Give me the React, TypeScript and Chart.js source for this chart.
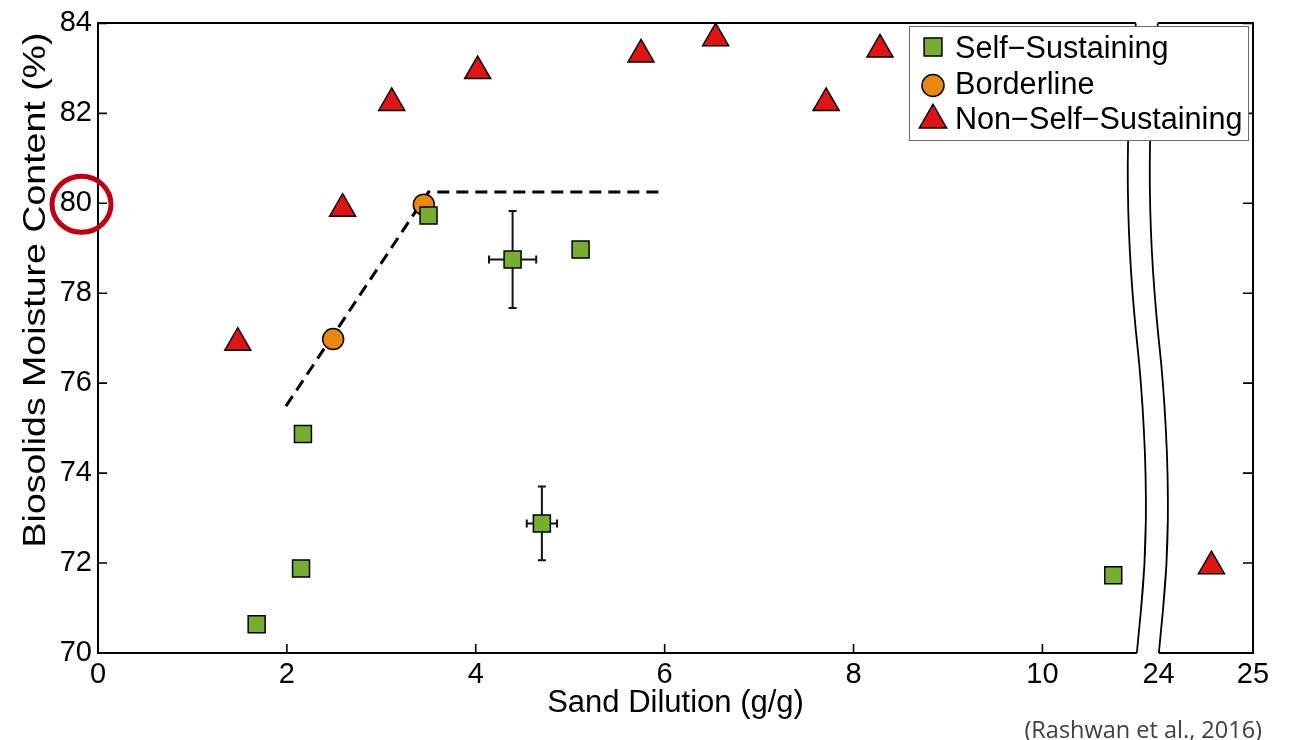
import React, { useEffect, useRef } from 'react';
import { Chart, registerables } from 'chart.js';

Chart.register(...registerables);

// ---- data (x in real g/g units; values >= 24 sit right of the axis break) ----
const selfX = [1.68, 2.15, 2.17, 3.5, 4.39, 4.7, 5.11, 10.75];
const selfY = [70.64, 71.88, 74.87, 79.73, 78.75, 72.88, 78.97, 71.73];
const selfXErr = [0, 0, 0, 0, 0.25, 0.16, 0, 0];
const selfYErr = [0, 0, 0, 0, 1.08, 0.82, 0, 0];

const borderX = [2.49, 3.45];
const borderY = [76.98, 79.97];

const nonX = [1.48, 2.59, 3.11, 4.02, 5.75, 6.54, 7.71, 8.28, 24.56];
const nonY = [76.9, 79.88, 82.23, 82.94, 83.31, 83.67, 82.23, 83.42, 71.93];

const lineX = [1.99, 3.5, 5.95];
const lineY = [75.49, 80.25, 80.25];

const xTickValues = [0, 2, 4, 6, 8, 10, 24, 25];
const xTickLabels = ['0', '2', '4', '6', '8', '10', '24', '25'];
const yMin = 70;
const yMax = 84;
const yStep = 2;

const seriesLabels = ['Self\u2212Sustaining', 'Borderline', 'Non\u2212Self\u2212Sustaining'];
const xTitle = 'Sand Dilution (g/g)';
const yTitle = 'Biosolids Moisture Content (%)';
const highlightedY = 80;

// axis break: real 24 is drawn at axis position 11.23
const BREAK_OFFSET = 12.77;
const BREAK_POS = 11.0;
const X_MAX = 25 - BREAK_OFFSET;
const toAxisX = (v: number) => (v >= 20 ? v - BREAK_OFFSET : v);

const GREEN = '#78AE30';
const ORANGE = '#E8890C';
const RED = '#E01414';
const FONT = "'Liberation Sans', Arial, Helvetica, sans-serif";

function drawMarker(ctx: CanvasRenderingContext2D, kind: string, x: number, y: number, fill: string, k = 1) {
  ctx.save();
  ctx.fillStyle = fill;
  ctx.strokeStyle = '#000';
  ctx.lineWidth = 1.5;
  ctx.beginPath();
  if (kind === 'rect') {
    const s = 8.5 * k;
    ctx.rect(x - s, y - s, 2 * s, 2 * s);
  } else if (kind === 'circle') {
    ctx.arc(x, y, 10.5 * k, 0, Math.PI * 2);
  } else {
    const r = 15 * k;
    for (let i = 0; i < 3; i++) {
      const a = (i * 2 * Math.PI) / 3;
      const px = x + Math.sin(a) * r;
      const py = y - Math.cos(a) * r;
      if (i === 0) ctx.moveTo(px, py);
      else ctx.lineTo(px, py);
    }
    ctx.closePath();
  }
  ctx.fill();
  ctx.stroke();
  ctx.restore();
}

const frameTicks = {
  id: 'frameTicks',
  beforeDatasetsDraw(chart: any) {
    const { ctx, chartArea, scales } = chart;
    const { left, right, bottom } = chartArea;
    ctx.save();
    ctx.strokeStyle = '#000';
    ctx.lineWidth = 1.6;
    scales.x.ticks.forEach((t: any) => {
      const px = scales.x.getPixelForValue(t.value);
      ctx.beginPath();
      ctx.moveTo(px, bottom);
      ctx.lineTo(px, bottom - 9);
      ctx.stroke();
    });
    scales.y.ticks.forEach((t: any) => {
      const py = scales.y.getPixelForValue(t.value);
      ctx.beginPath();
      ctx.moveTo(left, py);
      ctx.lineTo(left + 9, py);
      ctx.moveTo(right, py);
      ctx.lineTo(right - 10, py);
      ctx.stroke();
    });
    ctx.restore();
  },
};

const errorBars = {
  id: 'errorBars',
  beforeDatasetsDraw(chart: any) {
    const { ctx, scales } = chart;
    ctx.save();
    ctx.strokeStyle = '#111';
    ctx.lineWidth = 2;
    selfX.forEach((xv, i) => {
      const cx = scales.x.getPixelForValue(toAxisX(xv));
      const cy = scales.y.getPixelForValue(selfY[i]);
      if (selfYErr[i] > 0) {
        const y1 = scales.y.getPixelForValue(selfY[i] + selfYErr[i]);
        const y2 = scales.y.getPixelForValue(selfY[i] - selfYErr[i]);
        ctx.beginPath();
        ctx.moveTo(cx, y1);
        ctx.lineTo(cx, y2);
        ctx.moveTo(cx - 4, y1);
        ctx.lineTo(cx + 4, y1);
        ctx.moveTo(cx - 4, y2);
        ctx.lineTo(cx + 4, y2);
        ctx.stroke();
      }
      if (selfXErr[i] > 0) {
        const x1 = scales.x.getPixelForValue(toAxisX(xv - selfXErr[i]));
        const x2 = scales.x.getPixelForValue(toAxisX(xv + selfXErr[i]));
        ctx.beginPath();
        ctx.moveTo(x1, cy);
        ctx.lineTo(x2, cy);
        ctx.moveTo(x1, cy - 4);
        ctx.lineTo(x1, cy + 4);
        ctx.moveTo(x2, cy - 4);
        ctx.lineTo(x2, cy + 4);
        ctx.stroke();
      }
    });
    ctx.restore();
  },
};

// break curve shape: [pixel offset, fraction of plot height]
const breakShape: [number, number][] = [
  [-1, 0], [-5, 0.07], [-9.5, 0.19], [-8.5, 0.33], [-3, 0.46], [4.5, 0.57], [9.5, 0.72], [8.5, 0.86], [0, 1],
];
const BREAK_GAP = 22;

function curvePath(ctx: CanvasRenderingContext2D, pts: [number, number][], move: boolean) {
  if (move) ctx.moveTo(pts[0][0], pts[0][1]);
  else ctx.lineTo(pts[0][0], pts[0][1]);
  for (let i = 1; i < pts.length - 1; i++) {
    const mx = (pts[i][0] + pts[i + 1][0]) / 2;
    const my = (pts[i][1] + pts[i + 1][1]) / 2;
    ctx.quadraticCurveTo(pts[i][0], pts[i][1], mx, my);
  }
  const last = pts[pts.length - 1];
  ctx.lineTo(last[0], last[1]);
}

const axisBreak = {
  id: 'axisBreak',
  afterDatasetsDraw(chart: any) {
    const { ctx, chartArea, scales } = chart;
    const { top, bottom } = chartArea;
    const x0 = scales.x.getPixelForValue(BREAK_POS);
    const h = bottom - top;
    const leftPts: [number, number][] = breakShape.map(([dx, f]) => [x0 + dx, top + f * h]);
    const rightPts: [number, number][] = breakShape.map(([dx, f]) => [x0 + dx + BREAK_GAP, top + f * h]);
    ctx.save();
    const lp = leftPts.map((p) => [p[0], p[1]] as [number, number]);
    const rp = rightPts.map((p) => [p[0], p[1]] as [number, number]);
    lp[0][1] -= 2; rp[0][1] -= 2;
    lp[lp.length - 1][1] += 2; rp[rp.length - 1][1] += 2;
    ctx.beginPath();
    curvePath(ctx, lp, true);
    curvePath(ctx, rp.slice().reverse(), false);
    ctx.closePath();
    ctx.fillStyle = '#fff';
    ctx.fill();
    ctx.strokeStyle = '#000';
    ctx.lineWidth = 1.8;
    ctx.beginPath();
    curvePath(ctx, leftPts, true);
    ctx.stroke();
    ctx.beginPath();
    curvePath(ctx, rightPts, true);
    ctx.stroke();
    ctx.restore();
  },
};

const boxLegend = {
  id: 'boxLegend',
  afterDraw(chart: any) {
    const { ctx } = chart;
    const bx = 909, by = 26, bw = 339, bh = 114;
    ctx.save();
    ctx.fillStyle = '#fff';
    ctx.fillRect(bx, by, bw, bh);
    ctx.strokeStyle = '#6b6b6b';
    ctx.lineWidth = 1;
    ctx.strokeRect(bx + 0.5, by + 0.5, bw, bh);
    const kinds = ['rect', 'circle', 'triangle'];
    const rows = [47.5, 83, 118.5];
    const markerY = [47, 85.5, 120];
    chart.data.datasets.slice(0, 3).forEach((ds: any, i: number) => {
      drawMarker(ctx, kinds[i], 933, markerY[i], ds.backgroundColor, 1.05);
      ctx.fillStyle = '#000';
      ctx.font = `30.6px ${FONT}`;
      ctx.textAlign = 'left';
      ctx.textBaseline = 'alphabetic';
      ctx.fillText(ds.label, 955, rows[i] + 10.9);
    });
    ctx.restore();
  },
};

const axisTitles = {
  id: 'axisTitles',
  afterDraw(chart: any) {
    const { ctx, chartArea } = chart;
    ctx.save();
    ctx.fillStyle = '#000';
    ctx.font = `31px ${FONT}`;
    ctx.textAlign = 'center';
    ctx.textBaseline = 'middle';
    ctx.fillText(xTitle, (chartArea.left + chartArea.right) / 2, 703);
    ctx.translate(36, 290);
    ctx.rotate(-Math.PI / 2);
    ctx.scale(1.21, 1);
    ctx.fillText(yTitle, 0, 0);
    ctx.restore();
  },
};

const highlight = {
  id: 'highlight',
  afterDraw(chart: any) {
    const { ctx, scales } = chart;
    const cy = scales.y.getPixelForValue(highlightedY);
    ctx.save();
    ctx.strokeStyle = '#C00010';
    ctx.lineWidth = 5;
    ctx.beginPath();
    ctx.ellipse(81.5, cy + 1, 29.5, 28, 0, 0, Math.PI * 2);
    ctx.stroke();
    ctx.restore();
  },
};

export default function App() {
  const ref = useRef<HTMLCanvasElement>(null);

  useEffect(() => {
    const canvas = ref.current;
    if (!canvas) return;
    const yTicks: number[] = [];
    for (let v = yMin; v <= yMax; v += yStep) yTicks.push(v);

    const pointBase = { borderColor: '#000', borderWidth: 1.5, clip: false as any };

    const chart = new Chart(canvas, {
      type: 'scatter',
      data: {
        datasets: [
          {
            ...pointBase,
            label: seriesLabels[0],
            data: selfX.map((v, i) => ({ x: toAxisX(v), y: selfY[i] })),
            backgroundColor: GREEN,
            pointStyle: 'rect',
            pointRadius: 12,
          },
          {
            ...pointBase,
            label: seriesLabels[1],
            data: borderX.map((v, i) => ({ x: toAxisX(v), y: borderY[i] })),
            backgroundColor: ORANGE,
            pointStyle: 'circle',
            pointRadius: 10.5,
          },
          {
            ...pointBase,
            label: seriesLabels[2],
            data: nonX.map((v, i) => ({ x: toAxisX(v), y: nonY[i] })),
            backgroundColor: RED,
            pointStyle: 'triangle',
            pointRadius: 15,
          },
          {
            label: 'threshold',
            data: lineX.map((v, i) => ({ x: toAxisX(v), y: lineY[i] })),
            showLine: true,
            borderColor: '#000',
            borderWidth: 3,
            borderDash: [12, 7],
            pointRadius: 0,
            fill: false,
            clip: false as any,
          },
        ],
      },
      options: {
        animation: false,
        responsive: false,
        devicePixelRatio: 1,
        events: [],
        layout: { padding: { left: 0, top: 21, right: 38, bottom: 0 } },
        plugins: { legend: { display: false }, tooltip: { enabled: false } },
        scales: {
          x: {
            type: 'linear',
            position: 'bottom',
            min: 0,
            max: X_MAX,
            afterBuildTicks: (scale: any) => {
              scale.ticks = xTickValues.map((v) => ({ value: toAxisX(v) }));
            },
            afterFit: (scale: any) => {
              scale.height = 87;
            },
            ticks: {
              autoSkip: false,
              maxRotation: 0,
              padding: 5,
              color: '#000',
              font: { family: FONT, size: 29 },
              callback: (_v: any, i: number) => xTickLabels[i],
            },
            grid: { display: false, drawTicks: false },
            border: { display: true, color: '#000', width: 2 },
          },
          xTop: {
            type: 'linear',
            position: 'top',
            min: 0,
            max: X_MAX,
            afterFit: (scale: any) => {
              scale.height = 0;
            },
            ticks: { display: false },
            grid: { display: false, drawTicks: false },
            border: { display: true, color: '#000', width: 2 },
          },
          y: {
            type: 'linear',
            position: 'left',
            min: yMin,
            max: yMax,
            afterBuildTicks: (scale: any) => {
              scale.ticks = yTicks.map((v) => ({ value: v }));
            },
            afterFit: (scale: any) => {
              scale.width = 98;
            },
            ticks: {
              padding: 6,
              color: '#000',
              font: { family: FONT, size: 29 },
            },
            grid: { display: false, drawTicks: false },
            border: { display: true, color: '#000', width: 2 },
          },
          yRight: {
            type: 'linear',
            position: 'right',
            min: yMin,
            max: yMax,
            afterFit: (scale: any) => {
              scale.width = 0;
            },
            ticks: { display: false },
            grid: { display: false, drawTicks: false },
            border: { display: true, color: '#000', width: 2 },
          },
        },
      } as any,
      plugins: [frameTicks, errorBars, axisBreak, boxLegend, axisTitles, highlight],
    });
    return () => chart.destroy();
  }, []);

  return (
    <div style={{ position: 'fixed', left: 0, top: 0, width: 1291, height: 740, background: '#fff' }}>
      <canvas ref={ref} width={1291} height={740} style={{ display: 'block', width: 1291, height: 740 }} />
      <div
        style={{
          position: 'absolute',
          right: 29,
          top: 714,
          fontFamily: "'Open Sans', sans-serif",
          fontWeight: 400,
          fontSize: 23.5,
          color: '#404040',
          whiteSpace: 'nowrap',
          lineHeight: '30px',
        }}
      >
        (Rashwan et al., 2016)
      </div>
    </div>
  );
}
